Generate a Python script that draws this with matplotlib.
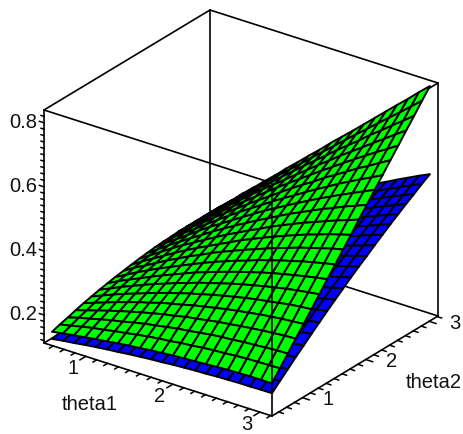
import numpy as np
import matplotlib
matplotlib.use("Agg")
import matplotlib.pyplot as plt
from mpl_toolkits.mplot3d import Axes3D  # noqa

plt.rcParams['font.family'] = ['Liberation Sans', 'DejaVu Sans']

# axis ranges
theta1_range = (0.52, 3.14)
theta2_range = (0.52, 3.14)
z_range = (0.1125, 0.84)
# surface grid nodes (21 x 21)
theta1_nodes = np.linspace(0.566, 3.094, 21)
theta2_nodes = np.linspace(0.583, 3.076, 21)

theta1_major = [1, 2, 3]
theta2_major = [1, 2, 3]
z_major = [0.2, 0.4, 0.6, 0.8]
z_labels = ['0.2', '0.4', '0.6', '0.8']
xlabel = 'theta1'
ylabel = 'theta2'

# surface heights, thousandths; each row is one theta2 node, each column one theta1 node
green_z = [
[144,150,155,160,165,169,174,178,181,185,188,191,193,195,197,199,201,202,203,203,203],
[152,159,167,174,179,186,191,197,202,207,210,215,218,222,225,227,230,232,233,234,235],
[159,169,177,186,194,201,209,216,222,228,234,238,243,248,252,254,258,260,263,265,266],
[167,177,188,198,208,217,226,234,242,248,256,261,267,273,277,282,286,290,293,296,298],
[174,186,198,210,221,232,241,252,260,268,277,284,291,298,304,309,315,319,323,326,329],
[180,194,208,221,233,245,257,268,278,288,297,306,314,322,329,336,341,347,353,357,360],
[186,201,217,231,245,259,271,284,295,307,317,327,337,346,354,362,369,376,382,387,392],
[191,209,225,240,256,271,285,299,313,325,337,348,359,369,379,388,396,404,411,418,424],
[196,214,233,250,267,282,298,313,328,342,355,368,379,392,402,413,422,432,440,448,455],
[200,221,239,258,277,294,312,327,344,359,373,387,400,413,426,437,449,459,469,479,487],
[204,226,246,266,286,305,323,340,357,374,391,406,421,435,449,462,475,486,498,508,518],
[208,230,252,274,295,314,334,353,372,389,407,423,441,456,471,486,499,513,526,538,551],
[211,234,258,280,302,323,345,365,385,404,423,441,459,477,493,509,525,539,555,568,582],
[214,239,262,286,310,333,354,376,397,418,439,458,477,496,514,532,549,566,582,598,614],
[216,242,267,291,316,340,364,387,409,431,453,474,494,515,535,554,574,592,610,627,645],
[217,244,271,296,322,347,372,396,420,443,467,490,512,533,556,576,597,618,637,657,677],
[219,247,273,300,327,353,379,405,431,456,480,504,528,552,575,598,621,643,665,686,708],
[219,248,276,304,332,359,387,414,440,466,492,518,544,569,595,619,643,668,692,716,740],
[219,248,278,307,336,364,392,421,449,477,505,532,559,587,613,639,667,692,719,744,771],
[219,250,280,309,340,369,398,428,457,486,516,545,574,603,632,660,689,717,745,774,803],
[219,250,280,312,342,373,403,435,465,496,526,558,588,618,649,680,711,742,772,804,834],
]
blue_z = [
[122,127,131,136,140,144,147,151,154,157,159,162,164,166,167,169,170,171,171,172,172],
[126,132,138,143,148,153,157,162,166,170,173,176,179,182,185,187,189,191,193,194,195],
[131,137,144,150,156,162,167,172,177,182,186,191,194,198,202,205,208,211,213,215,217],
[135,142,150,157,164,170,176,183,188,194,199,204,209,214,218,222,226,230,233,237,240],
[139,147,156,164,171,179,186,193,199,206,212,218,224,229,235,240,245,249,254,258,261],
[143,152,161,170,179,187,195,203,210,218,225,232,238,245,251,257,263,268,273,278,283],
[147,157,167,176,186,195,204,213,221,229,237,245,252,260,267,274,280,286,293,298,304],
[151,161,172,183,193,203,212,222,231,240,249,258,266,274,282,290,297,304,311,318,325],
[154,166,177,189,199,210,221,231,241,251,261,270,279,288,297,306,314,322,330,338,345],
[158,170,182,194,206,218,229,240,251,262,272,283,293,303,312,321,331,340,348,357,365],
[161,174,187,200,213,225,237,249,261,273,284,295,306,316,327,337,347,357,366,375,385],
[164,178,192,206,219,232,245,258,270,283,295,307,318,330,341,352,363,373,384,394,404],
[167,182,197,211,225,239,253,266,280,293,305,318,331,343,355,367,378,390,401,412,422],
[170,186,201,216,231,246,260,275,288,302,316,329,343,356,368,381,393,406,418,429,441],
[173,189,205,221,237,252,267,282,297,312,326,340,354,368,382,395,408,421,434,447,459],
[176,193,210,226,242,259,275,290,306,321,336,351,366,381,395,409,423,437,450,464,477],
[178,196,214,231,248,265,282,298,314,330,346,362,377,393,408,423,437,452,466,480,494],
[181,199,218,235,253,271,288,305,322,339,356,372,388,404,420,436,451,466,482,496,511],
[183,202,221,240,258,277,295,313,330,348,365,382,399,416,432,449,465,481,497,512,527],
[185,205,225,244,263,282,301,320,338,356,374,392,410,427,444,461,478,495,511,528,544],
[188,208,228,248,268,288,307,326,345,364,383,401,420,438,456,474,491,509,526,543,559],
]

W, H = 463, 434
fig = plt.figure(figsize=(W / 100, H / 100), dpi=100)
ax = fig.add_axes([0, 0, 1, 1], projection='3d', computed_zorder=False)
ax.set_axis_off()
ax.set_proj_type('ortho')
ax.apply_aspect = lambda position=None: None

a1, b1 = theta1_range
a2, b2 = theta2_range
zlo, zhi = z_range
ax.set_xlim(a1, b1)
ax.set_ylim(a2, b2)
ax.set_zlim(zlo, zhi)

# Fixed box view: box corners in the picture
X0, XU, XV = 44.0, 228.0, 166.0
Y0, YU, YV, YH = 343.0, 73.0, -100.0, -233.0
r1, r2, r3 = b1 - a1, b2 - a2, zhi - zlo


def custom_proj():
    vl = ax.viewLim
    to_unit = np.array([[1 / r1, 0, 0, -a1 / r1],
                        [0, 1 / r2, 0, -a2 / r2],
                        [0, 0, 1 / r3, -zlo / r3],
                        [0, 0, 0, 1]])
    to_px = np.array([[XU, XV, 0, X0],
                      [YU, YV, YH, Y0],
                      [-166 / 320, 228 / 320, -150 / 320, 0],
                      [0, 0, 0, 1]])
    to_view = np.array([[vl.width / W, 0, 0, vl.x0],
                        [0, -vl.height / H, 0, vl.y0 + vl.height],
                        [0, 0, 1, 0],
                        [0, 0, 0, 1]])
    return to_view @ to_px @ to_unit


ax.get_proj = custom_proj

T1, T2 = np.meshgrid(theta1_nodes, theta2_nodes)
ax.plot_surface(T1, T2, np.array(blue_z) / 1000, rstride=1, cstride=1, color='#0000ff',
                edgecolor='black', linewidth=1.4, shade=False, zorder=3)
ax.plot_surface(T1, T2, np.array(green_z) / 1000, rstride=1, cstride=1, color='#00ff00',
                edgecolor='black', linewidth=1.4, shade=False, zorder=4)

LW = 1.2


def seg(p, q, zo):
    ax.plot([p[0], q[0]], [p[1], q[1]], [p[2], q[2]], color='black', lw=LW,
            zorder=zo, solid_capstyle='round')


# box edges
for p, q in [((a1, b2, zlo), (a1, b2, zhi)),
             ((a1, a2, zhi), (a1, b2, zhi)),
             ((a1, b2, zhi), (b1, b2, zhi)),
             ((a1, b2, zlo), (a1, a2, zlo)),
             ((a1, b2, zlo), (b1, b2, zlo)),
             ((a1, a2, zhi), (b1, a2, zhi)),
             ((b1, a2, zhi), (b1, b2, zhi)),
             ((b1, b2, zlo), (b1, b2, zhi)),
             ((a1, a2, zlo), (a1, a2, zhi))]:
    seg(p, q, 1)
for p, q in [((b1, a2, zlo), (b1, a2, zhi)),
             ((a1, a2, zlo), (b1, a2, zlo)),
             ((b1, a2, zlo), (b1, b2, zlo))]:
    seg(p, q, 6)


def tick_line(p, du, dv, zo=6):
    ax.plot([p[0], p[0] + du * r1], [p[1], p[1] + dv * r2], [p[2], p[2]], color='black',
            lw=1.1, zorder=zo)


# theta1 ticks
t = 0.625
while t < b1:
    major = abs(t - round(t)) < 1e-9
    tick_line((t, a2, zlo), 0, -0.035 if major else -0.022)
    t += 0.125
# theta2 ticks
t = 0.625
while t < b2:
    major = abs(t - round(t)) < 1e-9
    tick_line((b1, t, zlo), 0.03 if major else 0.02, 0)
    t += 0.125
# z ticks
for k in range(6, 42):
    zt = k * 0.02
    if zlo <= zt <= zhi:
        major = k % 10 == 0
        tick_line((a1, a2, zt), -0.02 if major else -0.013, 0)


def to_px_xy(t1, t2, z):
    u, v, h = (t1 - a1) / r1, (t2 - a2) / r2, (z - zlo) / r3
    return X0 + XU * u + XV * v, Y0 + YU * u + YV * v + YH * h


def label(t1, t2, z, dx, dy, s, **kw):
    x, y = to_px_xy(t1, t2, z)
    fig.text((x + dx) / W, 1 - (y + dy) / H, s, fontsize=14.5, color='#111111', va='center', **kw)


for tv in theta1_major:
    label(tv, a2, zlo, -13, 12.5, str(tv), ha='center')
for tv in theta2_major:
    label(b1, tv, zlo, 26, 2, str(tv), ha='center')
for zv, zs in zip(z_major, z_labels):
    label(a1, a2, zv, -7, 0, zs, ha='right')
label(a1 + 0.2 * r1, a2, zlo, 0, 47, xlabel, ha='center')
label(b1, a2 + 0.6 * r2, zlo, 62, 27, ylabel, ha='center')

fig.savefig('out.png', dpi=100)
